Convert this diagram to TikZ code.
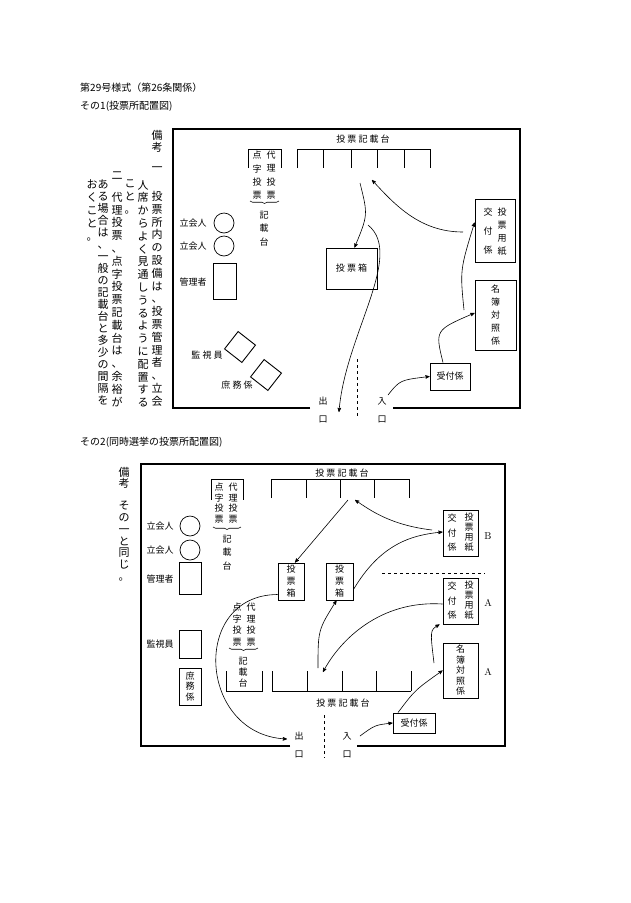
\documentclass[tikz,border=0pt]{standalone}
\usepackage{fontspec}
\newfontfamily\cjk{Noto Sans CJK JP}
\usetikzlibrary{arrows}
\usetikzlibrary{decorations.pathreplacing}
% vertical (tategaki) text: one character per line
\newcommand\tate[2][13pt]{\vbox{\baselineskip=#1\lineskiplimit=-20pt\lineskip=0pt\tateA#2\relax}}
\def\tateA#1{\ifx\relax#1\else\hbox to 1em{\hss#1\hss}\expandafter\tateA\fi}
\tikzset{
    lbl/.style = {font=\cjk\fontsize{9}{9}\selectfont, inner sep=0pt},
    note/.style = {font=\cjk\fontsize{11}{11}\selectfont, inner sep=0pt, anchor=north},
    head/.style = {font=\cjk\fontsize{10}{10}\selectfont, inner sep=0pt, anchor=west},
    box/.style = {lbl, draw=black, line width=0.9pt, align=center},
    seat/.style = {draw=black, circle, minimum size=20pt, inner sep=0pt, line width=0.7pt},
    desk/.style = {line width=0.9pt},
    frame/.style = {line width=1.2pt},
    flow/.style = {->, >=stealth', line width=0.6pt},
    brc/.style = {decorate, decoration={brace, mirror, amplitude=2.5pt}, line width=0.6pt}
}
\begin{document}
\begin{tikzpicture}[x=1pt, y=-1pt]
\useasboundingbox (0,0) rectangle (630,903);
\node[head] (t0) at (80,88) {第29号様式（第26条関係）};
\node[head] (t1) at (80,106) {その1(投票所配置図)};
\node[head] (t2) at (80,442) {その2(同時選挙の投票所配置図)};

% ---- その1 ----
\node[note] (r0) at (157,130) {\tate[12pt]{備考}};
\node[note] (r1) at (157,167) {\tate{一}};
\node[note] (r2) at (157,191) {\tate[12.8pt]{投票所内の設備は、投票管理者、立会}};
\node[note] (r3) at (143,180) {\tate[12.8pt]{人席からよく見通しうるように配置する}};
\node[note] (r4) at (130,180) {\tate[12.8pt]{こと。}};
\node[note] (r5) at (117,172) {\tate{二}};
\node[note] (r6) at (117,192) {\tate[12.8pt]{代理投票、点字投票記載台は、余裕が}};
\node[note] (r7) at (103,180) {\tate[12pt]{ある場合は、一般の記載台と多少の間隔を}};
\node[note] (r8) at (92,180) {\tate[12.8pt]{おくこと。}};

\draw[frame] (310,408) -| (173,129) -| (520,408) -- (393,408);
\node[lbl] (desk1) at (363,139) {投~票~記~載~台};
\draw[desk] (297,168) |- (430,149);
\foreach \x in {323,351,377,404,430} \draw[desk] (\x,149) -- (\x,168);
\draw[desk] (248,168) |- (281,149) -- (281,168);
\node[lbl, anchor=north] (dr1) at (271,151) {\tate[13.3pt]{代理投票}};
\node[lbl, anchor=north] (tj1) at (257,151) {\tate[13.3pt]{点字投票}};
\draw[brc] (250,201) -- (279,201);
\node[lbl, anchor=north] (kd1) at (264,211) {\tate[13.5pt]{記載台}};

\node[seat] (w1) at (224,223) {};
\node[seat] (w2) at (224,246) {};
\node[lbl] (w1l) at (193,223) {立会人};
\node[lbl] (w2l) at (193,246) {立会人};
\node[box, minimum width=23pt, minimum height=36pt] (mg1) at (224.5,281) {};
\node[lbl] (mg1l) at (193,282) {管理者};
\node[box, minimum size=22pt, rotate=-38] (ks1) at (240,347) {};
\node[lbl] (ks1l) at (207,355) {監~視~員};
\node[box, minimum size=22pt, rotate=-38] (sm1) at (266,375) {};
\node[lbl] (sm1l) at (237,385) {庶~務~係};

\node[box, minimum width=51pt, minimum height=41pt] (bb1) at (351.5,268.5) {投~票~箱};
\node[box, minimum width=40pt, minimum height=63pt] (is1) at (495,230.5) {};
\node[lbl, anchor=north] (is1a) at (502,208) {\tate[13pt]{投票用紙}};
\node[lbl, anchor=north] (is1b) at (488,208) {\tate[19pt]{交付係}};
\node[box, minimum width=41pt, minimum height=70pt] (mb1) at (495.5,315) {\tate[13pt]{名簿対照係}};
\node[box, minimum width=40pt, minimum height=27pt] (uk1) at (450,376.5) {受付係};

\node[lbl] (ex1) at (323,401) {出};
\node[lbl] (ex1b) at (323,419) {口};
\node[lbl] (en1) at (382,401) {入};
\node[lbl] (en1b) at (382,419) {口};
\draw[desk, dashed] (357,359) -- (357,417);

\coordinate (p1) at (360,183);
\coordinate (p2) at (372,180);
\coordinate (p3) at (368,225);
\coordinate (p4) at (339,412);
\coordinate (p5) at (463,232);
\coordinate (p6) at (388,395);
\coordinate (p7) at (464,310);
\draw[flow] (p1) .. controls (368,215) .. ([xshift=3pt]bb1.north);
\draw[flow] (p5) .. controls (420,232) and (395,205) .. (p2);
\draw[flow] (p3) .. controls (405,255) and (345,335) .. (p4);
\draw[flow] (p6) .. controls (400,380) .. (uk1.west);
\draw[flow] ([xshift=-7pt]uk1.north) .. controls (435,330) .. ([yshift=2pt]mb1.west);
\draw[flow] (p7) .. controls (460,270) .. ([yshift=8pt]is1.west);

% ---- その2 ----
\node[note] (s0) at (124,467) {\tate[11pt]{備考}};
\node[note] (s1) at (124,501) {\tate[11.8pt]{その一と同じ。}};

\draw[frame] (290,746) -| (141,464) -| (505,746) -- (357,746);
\node[lbl] (desk2) at (342,473) {投~票~記~載~台};
\draw[desk] (271,498) |- (409,479);
\foreach \x in {306,340,374,409} \draw[desk] (\x,479) -- (\x,498);
\draw[desk] (211,500) |- (243,479) -- (243,500);
\node[lbl, anchor=north] (dr2) at (233,483) {\tate[10.5pt]{代理投票}};
\node[lbl, anchor=north] (tj2) at (219,483) {\tate[10.5pt]{点字投票}};
\draw[brc] (213,527) -- (241,527);
\node[lbl, anchor=north] (kd2) at (227,535) {\tate[13.5pt]{記載台}};

\node[seat] (w3) at (190,526) {};
\node[seat] (w4) at (190,550) {};
\node[lbl] (w3l) at (160,526) {立会人};
\node[lbl] (w4l) at (160,550) {立会人};
\node[box, minimum width=22pt, minimum height=32pt] (mg2) at (190,578) {};
\node[lbl] (mg2l) at (160,579) {管理者};
\node[box, minimum width=22pt, minimum height=28pt] (ks2) at (190,644) {};
\node[lbl] (ks2l) at (160,644) {監視員};
\node[box, minimum width=22pt, minimum height=37pt] (sm2) at (190,686.5) {\tate[10.5pt]{庶務係}};

\node[box, minimum width=26pt, minimum height=37pt] (bb2) at (291,581.5) {\tate[12pt]{投票箱}};
\node[box, minimum width=27pt, minimum height=37pt] (bb3) at (339.5,581.5) {\tate[12pt]{投票箱}};
\draw[desk, dashed] (382,573) -- (485,573);

\node[box, minimum width=35pt, minimum height=46pt] (isB) at (460.5,533) {};
\node[lbl, anchor=north] (isBa) at (469,513) {\tate[10pt]{投票用紙}};
\node[lbl, anchor=north] (isBb) at (452,514) {\tate[14.5pt]{交付係}};
\node[lbl, font=\fontsize{10}{10}\selectfont] (lB) at (488,536) {B};
\node[box, minimum width=35pt, minimum height=46pt] (isA) at (460.5,601) {};
\node[lbl, anchor=north] (isAa) at (469,581) {\tate[10pt]{投票用紙}};
\node[lbl, anchor=north] (isAb) at (452,582) {\tate[14.5pt]{交付係}};
\node[lbl, font=\fontsize{10}{10}\selectfont] (lA1) at (488,603) {A};
\node[box, minimum width=35pt, minimum height=55pt] (mb2) at (460.5,670.5) {\tate[10.5pt]{名簿対照係}};
\node[lbl, font=\fontsize{10}{10}\selectfont] (lA2) at (488,672) {A};
\node[box, minimum width=42pt, minimum height=20pt] (uk2) at (414,723) {受付係};

\draw[desk] (272,671) |- (411,691);
\foreach \x in {307,342,376,411} \draw[desk] (\x,671) -- (\x,691);
\draw[desk] (226,671) |- (262,691) -- (262,671);
\node[lbl, anchor=north] (dr3) at (251,603) {\tate[11.5pt]{代理投票}};
\node[lbl, anchor=north] (tj3) at (237,603) {\tate[11.5pt]{点字投票}};
\draw[brc] (229,648) -- (258,648);
\node[lbl, anchor=north] (kd3) at (243,657) {\tate[11pt]{記載台}};
\node[lbl] (desk3) at (343,703) {投~票~記~載~台};

\node[lbl] (ex2) at (299,736) {出};
\node[lbl] (ex2b) at (299,754) {口};
\node[lbl] (en2) at (347,736) {入};
\node[lbl] (en2b) at (347,754) {口};
\draw[desk, dashed] (324,715) -- (324,758);

\coordinate (q1) at (348,500);
\coordinate (q2) at (355,500);
\coordinate (q3) at (432,530);
\coordinate (q4) at (287,739);
\coordinate (q5) at (318,668);
\coordinate (q6) at (323,672);
\coordinate (q7) at (434,663);
\coordinate (q8) at (360,736);
\draw[flow] (q1) .. controls (322,530) .. ([xshift=4pt]bb2.north);
\draw[flow] (q3) .. controls (390,525) and (370,510) .. (q2);
\draw[flow] ([yshift=-8pt]bb3.east) .. controls (380,545) and (410,535) .. ([yshift=1pt]isB.west);
\draw[flow] ([yshift=-13pt]bb2.west) .. controls (190,595) and (198,735) .. (q4);
\draw[flow] (q5) .. controls (318,630) .. ([xshift=-3pt]bb3.south);
\draw[flow] ([yshift=-3pt]isA.west) .. controls (380,600) and (340,640) .. (q6);
\draw[flow] (q7) .. controls (430,630) .. ([xshift=-3pt]isA.south west);
\draw[flow] (q8) .. controls (375,725) .. (uk2.west);
\draw[flow] ([xshift=-16pt]uk2.north) .. controls (415,690) .. (mb2.west);
\end{tikzpicture}
\end{document}
